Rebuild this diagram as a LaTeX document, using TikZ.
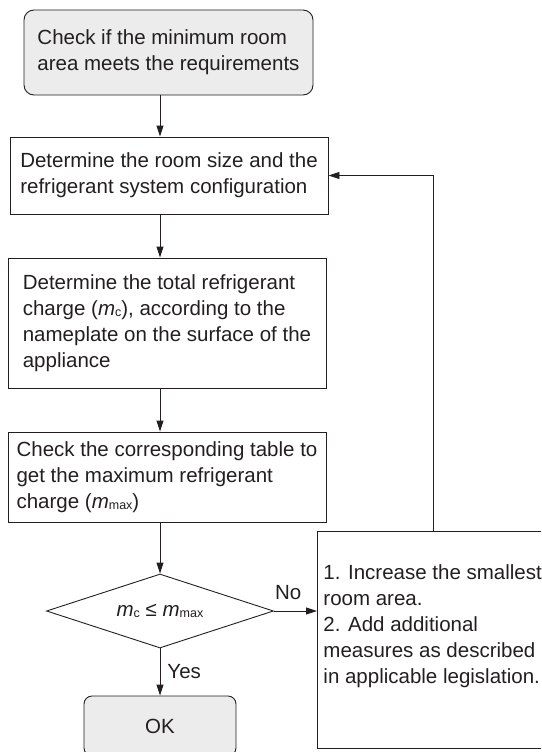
\documentclass[tikz,border=0pt]{standalone}
\usepackage{fontspec}
\setmainfont{Liberation Sans}
\usepackage{xcolor}
\usepackage{tikz}
\usetikzlibrary{positioning,shapes,calc,arrows.meta}
\definecolor{ink}{HTML}{231F20}
\definecolor{boxgray}{HTML}{EBECEB}
\newcommand{\boxfont}{\fontsize{20.5}{26}\selectfont}
\newcommand{\msub}[1]{\textit{m}\raisebox{-1pt}{\fontsize{12.5}{13}\selectfont #1}}
\tikzset{
  lbl/.style={font=\boxfont, inner sep=0pt},
  arr/.style={-{Triangle[length=11pt,width=7pt]}}
}

\begin{document}
\begin{tikzpicture}[x=1pt, y=-1pt, line width=0.9pt, color=ink]
        \clip (0,0) rectangle (541,752);
        \begin{scope}[every node/.style={draw, font=\boxfont, align=left, inner sep=0pt}]
            \node[rounded corners=10pt, fill=boxgray, minimum width=289pt, minimum height=85pt] (chk) at (168.5,52.5) {Check if the minimum room\\area meets the requirements};
            \node[minimum width=318pt, minimum height=77pt] (dim) at (169,175.5) {Determine the room size and the\\refrigerant system configuration};
            \node[minimum width=318pt, minimum height=130pt] (chg) at (167,323) {Determine the total refrigerant\\charge (\msub{c}), according to the\\nameplate on the surface of the\\appliance};
            \node[minimum width=318pt, minimum height=90pt] (tab) at (167,477) {Check the corresponding table to\\get the maximum refrigerant\\charge (\msub{max})};
            \node[diamond, aspect=3.07, minimum width=227pt, minimum height=74pt] (cmp) at (160,611) {\msub{c} ≤ \msub{max}};
            \node[rounded corners=8pt, fill=boxgray, minimum width=152pt, minimum height=60pt] (ok) at (160,726) {OK};
            \node[anchor=north west, minimum width=240pt, minimum height=217pt] (fix) at (317,531) {};
        \end{scope}
        \node[lbl, anchor=north west, align=left] (fixtxt) at (323,564) {1. Increase the smallest\\room area.\\2. Add additional\\measures as described\\in applicable legislation.};
        \begin{scope}[every edge/.style={draw, arr}]
            \path (chk.south -| cmp) edge (dim.north -| cmp);
            \path (dim.south -| cmp) edge (chg.north -| cmp);
            \path (chg.south -| cmp) edge (tab.north -| cmp);
            \path (tab.south -| cmp) edge (cmp.north);
            \path (cmp.east) edge node[lbl, pos=0.33, above=11pt] (no) {No} (cmp.east -| fix.west);
            \path (cmp.south) edge node[lbl, right=7pt] (yes) {Yes} (ok.north);
        \end{scope}
        \draw[arr] ([xshift=116pt]fix.north west) |- (dim.east);
    \end{tikzpicture}
\end{document}
